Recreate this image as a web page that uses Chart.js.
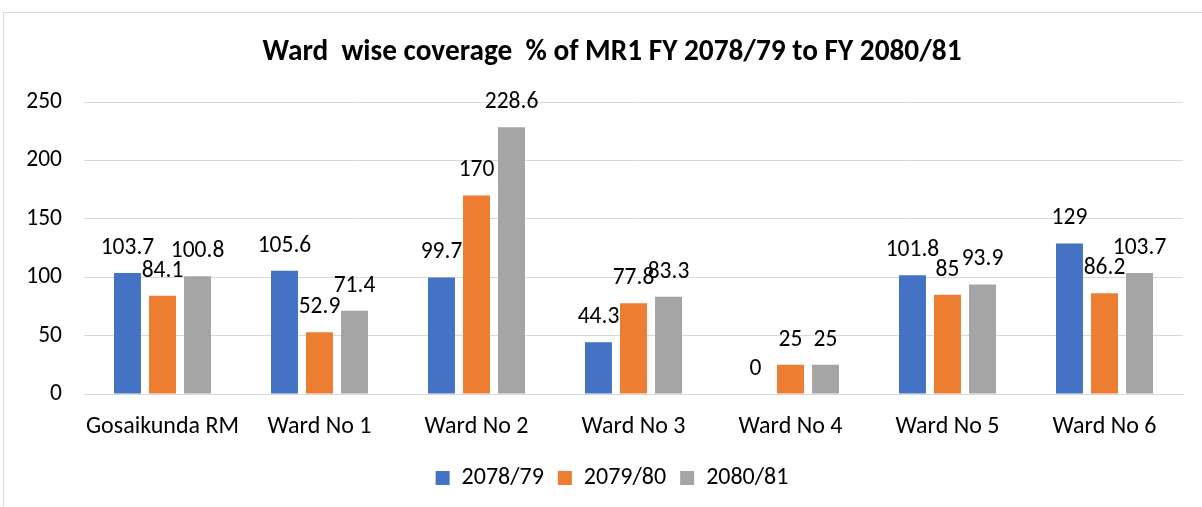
<!DOCTYPE html>
<html>
<head>
<meta charset="utf-8">
<script src="https://cdn.jsdelivr.net/npm/chart.js@4.4.0/dist/chart.umd.min.js"></script>
<style>
  html, body { margin: 0; padding: 0; background: #fff; }
  #wrap { position: relative; width: 1202px; height: 507px; overflow: hidden; }
  #frame { position: absolute; left: 3px; top: 12px; width: 1300px; height: 600px; border: 1px solid #d9d9d9; box-sizing: border-box; }
  canvas { position: absolute; left: 0; top: 0; }
</style>
</head>
<body>
<div id="wrap">
  <div id="frame"></div>
  <canvas id="c" width="1202" height="507"></canvas>
</div>
<script>
const categories = ["Gosaikunda RM", "Ward No 1", "Ward No 2", "Ward No 3", "Ward No 4", "Ward No 5", "Ward No 6"];
const seriesNames = ["2078/79", "2079/80", "2080/81"];
const values2078 = [103.7, 105.6, 99.7, 44.3, 0, 101.8, 129];
const values2079 = [84.1, 52.9, 170, 77.8, 25, 85, 86.2];
const values2080 = [100.8, 71.4, 228.6, 83.3, 25, 93.9, 103.7];
const yTicks = [0, 50, 100, 150, 200, 250];
const colors = ["#4472C4", "#ED7D31", "#A5A5A5"];

const FONT = "Carlito, Lato, 'Open Sans', sans-serif";
const NUM_FS = 23.5;
const CAT_FS = 24;

const labelPlugin = {
  id: 'barLabels',
  afterDatasetsDraw(chart) {
    const ctx = chart.ctx;
    ctx.save();
    ctx.font = NUM_FS + "px " + FONT;
    ctx.fillStyle = "#000";
    ctx.textAlign = "center";
    ctx.textBaseline = "middle";
    chart.data.datasets.forEach((ds, i) => {
      const meta = chart.getDatasetMeta(i);
      meta.data.forEach((el, j) => {
        ctx.fillText(String(ds.data[j]), el.x, el.y - 25);
      });
    });
    ctx.restore();
  }
};

new Chart(document.getElementById('c'), {
  type: 'bar',
  data: {
    labels: categories,
    datasets: [
      { label: seriesNames[0], data: values2078, backgroundColor: colors[0] },
      { label: seriesNames[1], data: values2079, backgroundColor: colors[1] },
      { label: seriesNames[2], data: values2080, backgroundColor: colors[2] }
    ]
  },
  options: {
    responsive: false,
    animation: false,
    devicePixelRatio: 1,
    layout: { padding: { left: 22, right: 0, top: 28, bottom: 7 } },
    datasets: { bar: { categoryPercentage: 0.669, barPercentage: 0.77 } },
    scales: {
      x: {
        grid: { display: false, drawTicks: false },
        border: { display: true, color: "#d9d9d9", width: 1 },
        ticks: { font: { family: FONT, size: CAT_FS }, color: "#000", padding: 19, maxRotation: 0 },
        afterFit(s) { s.height = 58; }
      },
      y: {
        min: 0, max: 250,
        afterBuildTicks(s) { s.ticks = yTicks.map(v => ({ value: v })); },
        grid: { color: "#d9d9d9", lineWidth: 1, drawTicks: false },
        border: { display: false },
        ticks: { font: { family: FONT, size: NUM_FS }, color: "#000", padding: 22 },
        afterFit(s) { s.width = 62; }
      },
      y2: {
        position: 'right',
        display: true,
        grid: { display: false, drawTicks: false },
        border: { display: false },
        ticks: { display: false },
        afterFit(s) { s.width = 19; }
      }
    },
    plugins: {
      title: {
        display: true,
        text: "Ward  wise coverage  % of MR1 FY 2078/79 to FY 2080/81",
        font: { family: FONT, size: 29.3, weight: 'bold' },
        color: "#000",
        padding: { top: 7, bottom: 32 }
      },
      legend: {
        position: 'bottom',
        labels: { font: { family: FONT, size: 24 }, color: "#000", boxWidth: 14, boxHeight: 14, padding: 14 }
      },
      tooltip: { enabled: false }
    }
  },
  plugins: [labelPlugin]
});
</script>
</body>
</html>
